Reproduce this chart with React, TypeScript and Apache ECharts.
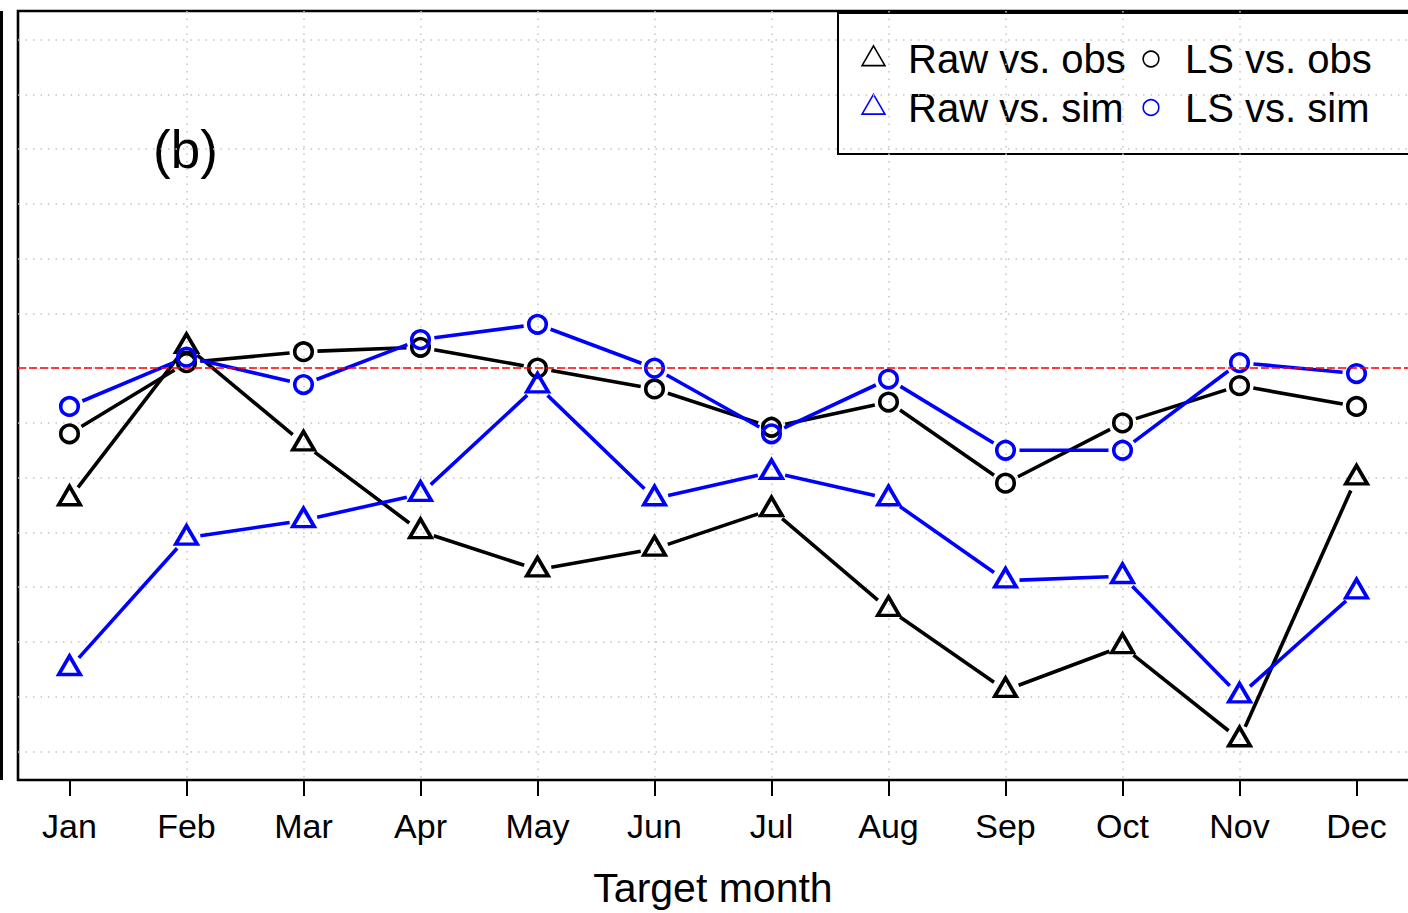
import React, { useEffect, useRef } from "react";
import * as echarts from "echarts";

const months = ["Jan", "Feb", "Mar", "Apr", "May", "Jun", "Jul", "Aug", "Sep", "Oct", "Nov", "Dec"];
const monthIndex = [1, 2, 3, 4, 5, 6, 7, 8, 9, 10, 11, 12];

const rawObs = [0.881, 1.02, 0.931, 0.851, 0.816, 0.835, 0.871, 0.78, 0.706, 0.746, 0.661, 0.9];
const rawSim = [0.726, 0.845, 0.861, 0.885, 0.984, 0.881, 0.905, 0.881, 0.806, 0.81, 0.701, 0.796];
const lsObs = [0.94, 1.005, 1.015, 1.019, 1.0, 0.981, 0.946, 0.969, 0.895, 0.95, 0.984, 0.965];
const lsSim = [0.965, 1.01, 0.985, 1.026, 1.04, 1.0, 0.94, 0.99, 0.925, 0.925, 1.005, 0.995];

const refLine = 1.0;
const yMin = 0.624;
const yMax = 1.326;
const xMin = 0.56;
const xMax = 12.44;

const legendLabels = ["Raw vs. obs", "LS vs. obs", "Raw vs. sim", "LS vs. sim"];

const FONT = "'Liberation Sans', Arial, Helvetica, sans-serif";
const BLACK = "#000000";
const BLUE = "#0000ff";

function segmentSeries(name: string, values: number[], color: string) {
  const data = values.slice(0, -1).map((v, i) => [monthIndex[i], v, monthIndex[i + 1], values[i + 1]]);
  return {
    type: "custom",
    name: name + " line",
    data,
    encode: { x: [0, 2], y: [1, 3] },
    silent: true,
    z: 3,
    renderItem: (_params: any, api: any) => {
      const a = api.coord([api.value(0), api.value(1)]);
      const b = api.coord([api.value(2), api.value(3)]);
      const dx = b[0] - a[0];
      const dy = b[1] - a[1];
      const L = Math.hypot(dx, dy);
      const g = 14;
      if (L <= 2 * g) return null;
      const ux = dx / L;
      const uy = dy / L;
      return {
        type: "line",
        shape: { x1: a[0] + ux * g, y1: a[1] + uy * g, x2: b[0] - ux * g, y2: b[1] - uy * g },
        style: { stroke: color, lineWidth: 3.6, lineCap: "butt" },
      };
    },
  };
}

function pointSeries(name: string, values: number[], color: string, shape: "triangle" | "circle") {
  return {
    type: "scatter",
    name,
    data: monthIndex.map((m, i) => [m, values[i]]),
    symbol: shape,
    symbolSize: shape === "triangle" ? [21.5, 18.5] : 17.5,
    symbolOffset: shape === "triangle" ? [0, -3] : [0, 0],
    itemStyle: { color: "none", borderColor: color, borderWidth: 3.6, opacity: 1 },
    emphasis: { disabled: true },
    silent: true,
    z: 4,
  };
}

function legendTriangle(cx: number, cy: number, r: number, color: string) {
  const xc = 1.3468 * r;
  const top = 1.5551 * r;
  const bot = 0.7776 * r;
  return {
    type: "polygon",
    shape: { points: [[cx, cy - top], [cx + xc, cy + bot], [cx - xc, cy + bot]] },
    style: { fill: "none", stroke: color, lineWidth: 1.6 },
    silent: true,
  };
}

export default function App() {
  const ref = useRef<HTMLDivElement>(null);

  useEffect(() => {
    document.body.style.margin = "0";
    document.body.style.overflow = "hidden";
    if (!ref.current) return;
    const chart = echarts.init(ref.current, undefined, { renderer: "svg" });

    const gridStyle = { color: "#c4c4c4", width: 1.5, type: [1.5, 6] };

    const row1 = 59;
    const row2 = 107.5;

    chart.setOption({
      animation: false,
      backgroundColor: "#ffffff",
      grid: {
        left: 18,
        top: 11,
        width: 1393.3,
        height: 769,
        show: false,
        containLabel: false,
      },
      xAxis: {
        type: "value",
        min: xMin,
        max: xMax,
        splitNumber: 12,
        axisLine: { show: false },
        axisTick: {
          show: true,
          length: 16,
          customValues: monthIndex,
          lineStyle: { color: BLACK, width: 2 },
        },
        axisLabel: {
          customValues: monthIndex,
          formatter: (v: number) => months[Math.round(v) - 1] ?? "",
          fontSize: 34,
          color: BLACK,
          fontFamily: FONT,
          margin: 29,
        },
        splitLine: { show: true, showMinLine: false, showMaxLine: false, lineStyle: gridStyle },
        name: "Target month",
        nameLocation: "middle",
        nameGap: 87,
        nameTextStyle: { fontSize: 41, color: BLACK, fontFamily: FONT },
      },
      yAxis: {
        type: "value",
        min: yMin,
        max: yMax,
        splitNumber: 14,
        axisLine: { show: false },
        axisTick: { show: false },
        axisLabel: { show: false },
        splitLine: { show: true, showMinLine: false, showMaxLine: false, lineStyle: gridStyle },
      },
      series: [
        {
          type: "line",
          name: "reference",
          data: [],
          silent: true,
          z: 2,
          markLine: {
            silent: true,
            symbol: ["none", "none"],
            label: { show: false },
            lineStyle: { color: "#ff0000", type: [8, 3], width: 1.6 },
            data: [{ yAxis: refLine }],
          },
        },
        segmentSeries(legendLabels[0], rawObs, BLACK),
        pointSeries(legendLabels[0], rawObs, BLACK, "triangle"),
        segmentSeries(legendLabels[1], lsObs, BLACK),
        pointSeries(legendLabels[1], lsObs, BLACK, "circle"),
        segmentSeries(legendLabels[2], rawSim, BLUE),
        pointSeries(legendLabels[2], rawSim, BLUE, "triangle"),
        segmentSeries(legendLabels[3], lsSim, BLUE),
        pointSeries(legendLabels[3], lsSim, BLUE, "circle"),
      ],
      graphic: [
        { type: "rect", shape: { x: 0, y: 11, width: 3, height: 769 }, style: { fill: BLACK }, silent: true },
        {
          type: "rect",
          shape: { x: 18, y: 11, width: 1393.3, height: 769 },
          style: { fill: "none", stroke: BLACK, lineWidth: 2.6 },
          silent: true,
        },
        {
          type: "text",
          x: 153,
          y: 149,
          style: { text: "(b)", fontSize: 53, fontFamily: FONT, fill: BLACK, align: "left", verticalAlign: "middle" },
          silent: true,
        },
        {
          type: "rect",
          shape: { x: 838, y: 13, width: 700, height: 141 },
          style: { fill: "none", stroke: BLACK, lineWidth: 2 },
          silent: true,
        },
        legendTriangle(873.5, row1, 8.5, BLACK),
        legendTriangle(873.5, row2, 8.5, BLUE),
        { type: "circle", shape: { cx: 1151, cy: row1, r: 7.8 }, style: { fill: "none", stroke: BLACK, lineWidth: 1.6 }, silent: true },
        { type: "circle", shape: { cx: 1151, cy: row2, r: 7.8 }, style: { fill: "none", stroke: BLUE, lineWidth: 1.6 }, silent: true },
        {
          type: "text", x: 908, y: row1,
          style: { text: legendLabels[0], fontSize: 40, fontFamily: FONT, fill: BLACK, align: "left", verticalAlign: "middle" },
          silent: true,
        },
        {
          type: "text", x: 1185, y: row1,
          style: { text: legendLabels[1], fontSize: 40, fontFamily: FONT, fill: BLACK, align: "left", verticalAlign: "middle" },
          silent: true,
        },
        {
          type: "text", x: 908, y: row2,
          style: { text: legendLabels[2], fontSize: 40, fontFamily: FONT, fill: BLACK, align: "left", verticalAlign: "middle" },
          silent: true,
        },
        {
          type: "text", x: 1185, y: row2,
          style: { text: legendLabels[3], fontSize: 40, fontFamily: FONT, fill: BLACK, align: "left", verticalAlign: "middle" },
          silent: true,
        },
      ],
    });

    return () => {
      chart.dispose();
    };
  }, []);

  return <div ref={ref} style={{ width: 1408, height: 913, background: "#fff" }} />;
}
